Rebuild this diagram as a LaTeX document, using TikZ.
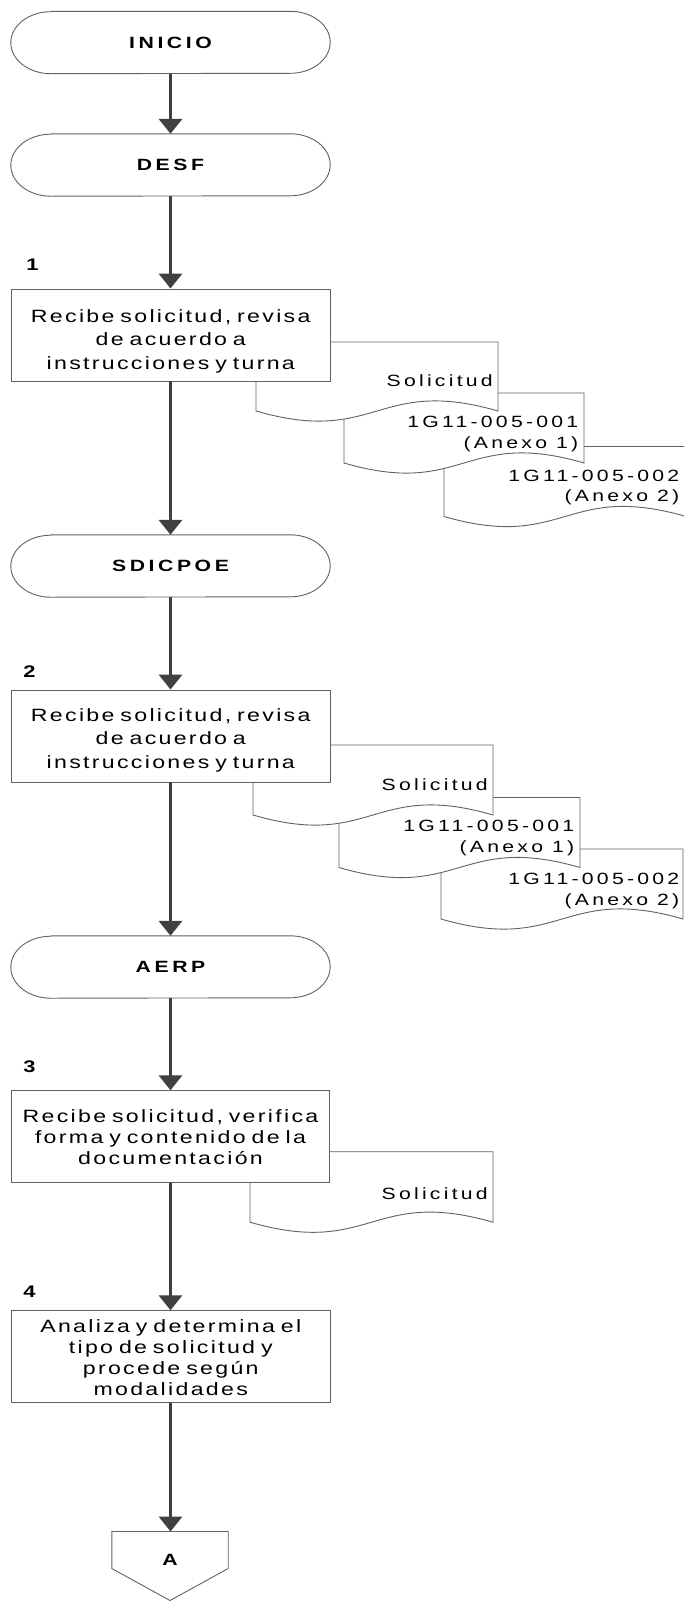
\documentclass[tikz,border=0pt]{standalone}
\usepackage{fontspec}
\setmainfont{Liberation Sans}
\newfontfamily\boxfont[FakeStretch=1.3, LetterSpace=13]{Liberation Sans}
\newfontfamily\docfont[FakeStretch=1.3, LetterSpace=20]{Liberation Sans}
\newfontfamily\termfont[FakeStretch=1.3, LetterSpace=22]{Liberation Sans}
\newfontfamily\labelfont[FakeStretch=1.3]{Liberation Sans}
\usetikzlibrary{arrows.meta,calc}

\tikzset{
  x=1pt, y=1pt,
  outline/.style={draw=black!62, line width=0.9pt},
  procbox/.style={outline, fill=white, rectangle, minimum width=318.5pt,
    minimum height=92pt, inner sep=0pt, text width=318pt, align=center,
    font=\boxfont\fontsize{17.8}{23.5}\selectfont},
  procboxtight/.style={procbox, font=\boxfont\fontsize{17.8}{21}\selectfont},
  termnode/.style={rectangle, minimum width=319pt, minimum height=62pt,
    inner sep=0pt, font=\termfont\bfseries\fontsize{16.3}{20}\selectfont},
  docshape/.style={outline, fill=white},
  doctext/.style={anchor=east, inner sep=0pt, align=right,
    font=\docfont\fontsize{16.3}{20.5}\selectfont},
  steplabel/.style={inner sep=0pt, font=\labelfont\bfseries\fontsize{16.8}{20}\selectfont},
  flow/.style={draw=black!75, line width=3.5pt,
    -{Triangle[width=23pt,length=15pt]}},
}

% invisible strut that lowers the text block inside a box
\newcommand\topstrut[1]{\rule{0pt}{#1}}

% terminal outline: straight top and bottom, elliptical ends
\newcommand\termoutline[1]{%
  \draw[outline] ($(#1.north west)+(40,0)$) -- ($(#1.north east)+(-40,0)$)
    arc[start angle=90, end angle=-90, x radius=40pt, y radius=31pt]
    -- ($(#1.south west)+(40,0)$)
    arc[start angle=270, end angle=90, x radius=40pt, y radius=31pt] -- cycle;}

% document symbol: #1 = left x, #2 = top y (downwards), #3 = width, #4 = height
\newcommand\docsym[4]{%
  \draw[docshape] (#1,-#2) -- ({#1+#3},-#2) -- ({#1+#3},{-(#2+#4)})
    .. controls ({#1+#3/2},{-(#2+#4)+35}) and ({#1+#3/2},{-(#2+#4)-35}) ..
    (#1,{-(#2+#4)}) -- cycle;}

\begin{document}
\begin{tikzpicture}
\fill[white] (0,0) rectangle (684,-1601);
\useasboundingbox (0,0) rectangle (684,-1601);
\clip (0,0) rectangle (684,-1601);

% ---- terminals ----
\node[termnode] (inicio) at (170.5,-42.5) {INICIO};
\termoutline{inicio}
\node[termnode] (desf) at (170.5,-165) {DESF};
\termoutline{desf}

% ---- step 1 with its documents ----
\node[steplabel] (lab1) at (32.5,-265) {1};
\docsym{444}{446.5}{242}{70}
\node[doctext] (d13) at (679.5,-487.5) {1G11-005-002\\(Anexo 2)};
\docsym{344}{393}{240}{70}
\node[doctext] (d12) at (578.5,-434) {1G11-005-001\\(Anexo 1)};
\docsym{256}{342}{242}{69}
\node[doctext] (d11) at (493,-380.7) {Solicitud};
\node[procbox] (p1) at (170.75,-335) {\topstrut{25pt}Recibe solicitud, revisa\\de acuerdo a\\instrucciones y turna};

\node[termnode] (sdicpoe) at (170.5,-566) {SDICPOE};
\termoutline{sdicpoe}

% ---- step 2 with its documents ----
\node[steplabel] (lab2) at (29.5,-671.7) {2};
\docsym{441}{849}{242}{70}
\node[doctext] (d23) at (679.5,-891) {1G11-005-002\\(Anexo 2)};
\docsym{339}{797.5}{241}{70}
\node[doctext] (d22) at (574.5,-838) {1G11-005-001\\(Anexo 1)};
\docsym{253}{745}{240}{70}
\node[doctext] (d21) at (488,-785) {Solicitud};
\node[procbox] (p2) at (170.75,-736) {\topstrut{21pt}Recibe solicitud, revisa\\de acuerdo a\\instrucciones y turna};

\node[termnode] (aerp) at (170.5,-967) {AERP};
\termoutline{aerp}

% ---- step 3 ----
\node[steplabel] (lab3) at (29.5,-1066.7) {3};
\docsym{250}{1151.7}{243}{70.5}
\node[doctext] (d31) at (488,-1193.3) {Solicitud};
\node[procboxtight] (p3) at (170.5,-1136.7) {\topstrut{14pt}Recibe solicitud, verifica\\forma y contenido de la\\documentación};

% ---- step 4 ----
\node[steplabel] (lab4) at (29.5,-1291.7) {4};
\node[procboxtight] (p4) at (170.75,-1356.7) {\topstrut{15pt}Analiza y determina el\\tipo de solicitud y\\procede según\\modalidades};

% ---- off-page connector ----
\node[rectangle, minimum width=116pt, minimum height=36.6pt, inner sep=0pt,
  text height=31.8pt, text depth=0pt,
  font=\labelfont\bfseries\fontsize{16.3}{20}\selectfont] (conA) at (170,-1550) {A};
\draw[outline] (conA.north west) -- (conA.north east) -- (conA.south east)
  -- ($(conA.south)+(0,-32)$) -- (conA.south west) -- cycle;

% ---- flow connectors ----
\draw[flow] (inicio.south) -- (desf.north);
\draw[flow] (desf.south) -- (desf.south |- p1.north);
\draw[flow] (p1.south -| desf.south) -- (sdicpoe.north);
\draw[flow] (sdicpoe.south) -- (sdicpoe.south |- p2.north);
\draw[flow] (p2.south -| sdicpoe.south) -- (aerp.north);
\draw[flow] (aerp.south) -- (aerp.south |- p3.north);
\draw[flow] (p3.south -| aerp.south) -- (aerp.south |- p4.north);
\draw[flow] (p4.south -| aerp.south) -- (aerp.south |- conA.north);
\end{tikzpicture}
\end{document}
